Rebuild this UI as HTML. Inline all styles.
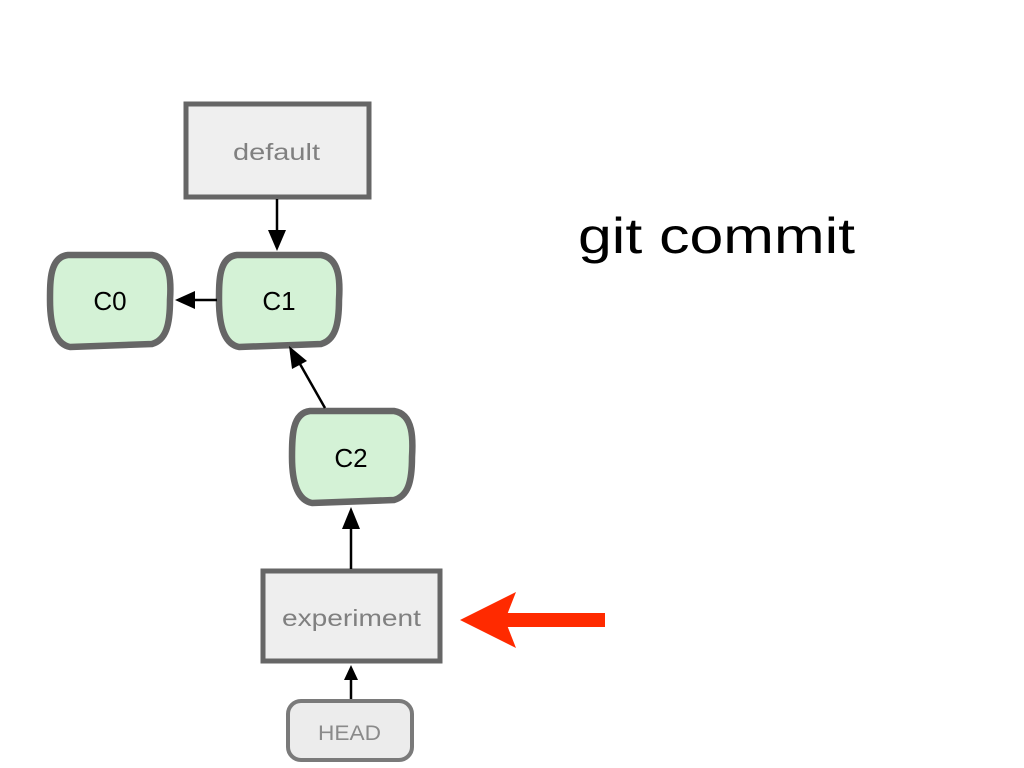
<!DOCTYPE html>
<html><head><meta charset="utf-8"><style>
html,body{margin:0;padding:0;background:#fff;}
svg{display:block;}
</style></head><body>
<svg width="1024" height="768" viewBox="0 0 1024 768" xmlns="http://www.w3.org/2000/svg" font-family="Liberation Sans, DejaVu Sans, sans-serif">
<!-- default box -->
<rect x="186" y="104" width="183" height="93" fill="#efefef" stroke="#666" stroke-width="5"/>
<text x="233" y="160" font-size="23" fill="#808080" textLength="87" lengthAdjust="spacingAndGlyphs">default</text>
<line x1="277" y1="199" x2="277" y2="232" stroke="#000" stroke-width="2.5"/>
<polygon points="268,230 286,230 277,251" fill="#000"/>

<g fill="#d4f2d6" stroke="#666" stroke-width="6.5" stroke-linejoin="round" stroke-linecap="round">
<path d="M68,255 L152,255 C172,258 171,285 170,300 C170,325 166,340 152,344 L70,347 C55,344 50,325 50,300 C50,280 50,257 68,255 Z"/>
<path d="M237,255 L321,255 C341,258 340,285 339,300 C339,325 335,340 321,344 L239,347 C224,344 219,325 219,300 C219,280 219,257 237,255 Z"/>
<path d="M310,411 L394,411 C414,414 413,441 412,457 C412,482 408,496 394,500 L312,503 C297,500 292,482 292,457 C292,437 292,413 310,411 Z"/>
</g>
<text x="110" y="310" font-size="26" fill="#000" text-anchor="middle">C0</text>
<text x="279" y="310" font-size="26" fill="#000" text-anchor="middle">C1</text>
<text x="351" y="467" font-size="26" fill="#000" text-anchor="middle">C2</text>

<line x1="217" y1="300" x2="192" y2="300" stroke="#000" stroke-width="2.5"/>
<polygon points="175,300 195,291 195,309" fill="#000"/>
<line x1="325" y1="408" x2="300" y2="364" stroke="#000" stroke-width="2.5"/>
<polygon points="289,346 307,361 292,369" fill="#000"/>

<rect x="263" y="571" width="177" height="90" fill="#eeeeee" stroke="#666" stroke-width="5"/>
<text x="282" y="626" font-size="23" fill="#808080" textLength="139" lengthAdjust="spacingAndGlyphs">experiment</text>
<line x1="351" y1="569" x2="351" y2="526" stroke="#000" stroke-width="2.5"/>
<polygon points="342,529 360,529 351,507" fill="#000"/>

<rect x="288" y="701" width="124" height="59" rx="13" fill="#ececec" stroke="#7a7a7a" stroke-width="4"/>
<text x="318" y="740" font-size="21" fill="#8a8a8a" textLength="63" lengthAdjust="spacingAndGlyphs">HEAD</text>
<line x1="351" y1="699" x2="351" y2="676" stroke="#000" stroke-width="2.5"/>
<polygon points="344,680 358,680 351,665" fill="#000"/>

<rect x="505" y="613" width="100" height="14" fill="#ff2a00"/>
<polygon points="460,620 516,592 505,620 516,648" fill="#ff2a00"/>

<text x="578" y="253" font-size="50" fill="#000" textLength="277" lengthAdjust="spacingAndGlyphs">git commit</text>
</svg>
</body></html>
